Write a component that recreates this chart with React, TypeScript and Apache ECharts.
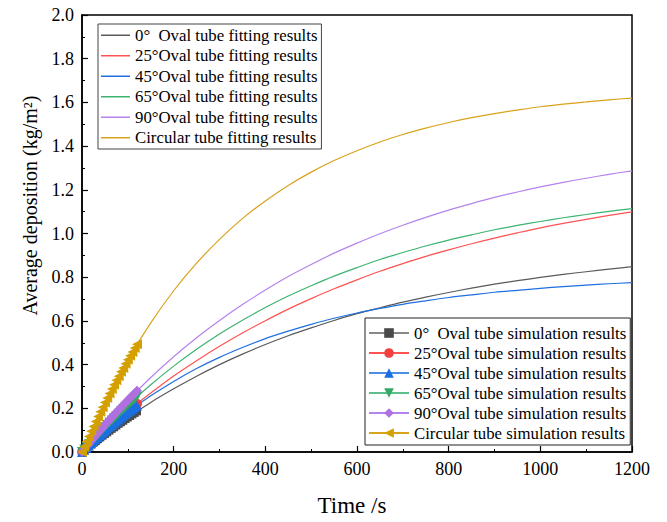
import React, { useEffect, useRef } from "react";
import * as echarts from "echarts";

const fitTime = [0, 50, 100, 150, 200, 250, 300, 350, 400, 450, 500, 550, 600, 650, 700, 750, 800, 850, 900, 950, 1000, 1050, 1100, 1150, 1200];
const fit0 = [0, 0.082, 0.158, 0.227, 0.289, 0.347, 0.4, 0.448, 0.492, 0.532, 0.568, 0.602, 0.633, 0.66, 0.686, 0.709, 0.73, 0.75, 0.768, 0.784, 0.799, 0.813, 0.825, 0.837, 0.848];
const fit25 = [0, 0.097, 0.187, 0.27, 0.348, 0.418, 0.484, 0.545, 0.601, 0.654, 0.702, 0.747, 0.788, 0.827, 0.862, 0.895, 0.925, 0.953, 0.979, 1.003, 1.026, 1.046, 1.065, 1.083, 1.099];
const fit45 = [0, 0.097, 0.182, 0.257, 0.323, 0.382, 0.433, 0.478, 0.519, 0.553, 0.584, 0.612, 0.636, 0.657, 0.676, 0.692, 0.707, 0.719, 0.731, 0.74, 0.749, 0.757, 0.764, 0.77, 0.775];
const fit65 = [0, 0.113, 0.215, 0.308, 0.393, 0.47, 0.54, 0.603, 0.661, 0.714, 0.761, 0.805, 0.844, 0.881, 0.913, 0.943, 0.97, 0.994, 1.017, 1.037, 1.055, 1.072, 1.087, 1.101, 1.114];
const fit90 = [0, 0.124, 0.237, 0.341, 0.436, 0.523, 0.602, 0.675, 0.741, 0.803, 0.858, 0.91, 0.956, 0.999, 1.038, 1.074, 1.107, 1.137, 1.165, 1.19, 1.213, 1.234, 1.253, 1.271, 1.287];
const fitCirc = [0, 0.227, 0.422, 0.591, 0.738, 0.864, 0.973, 1.068, 1.149, 1.22, 1.281, 1.334, 1.379, 1.419, 1.453, 1.482, 1.508, 1.53, 1.549, 1.565, 1.58, 1.592, 1.602, 1.612, 1.62];

const simTime = [0, 5, 10, 15, 20, 25, 30, 35, 40, 45, 50, 55, 60, 65, 70, 75, 80, 85, 90, 95, 100, 105, 110, 115, 120];
const sim0 = [0, 0.009, 0.017, 0.026, 0.034, 0.042, 0.05, 0.059, 0.067, 0.075, 0.082, 0.09, 0.098, 0.106, 0.113, 0.121, 0.129, 0.136, 0.143, 0.151, 0.158, 0.165, 0.172, 0.179, 0.186];
const sim25 = [0, 0.01, 0.02, 0.03, 0.04, 0.05, 0.059, 0.069, 0.078, 0.088, 0.097, 0.106, 0.116, 0.125, 0.134, 0.143, 0.152, 0.161, 0.17, 0.178, 0.187, 0.196, 0.204, 0.213, 0.221];
const sim45 = [0, 0.01, 0.02, 0.03, 0.04, 0.05, 0.06, 0.069, 0.078, 0.088, 0.097, 0.106, 0.115, 0.124, 0.132, 0.141, 0.149, 0.158, 0.166, 0.174, 0.182, 0.19, 0.198, 0.206, 0.213];
const sim65 = [0, 0.012, 0.023, 0.035, 0.046, 0.058, 0.069, 0.08, 0.091, 0.102, 0.113, 0.123, 0.134, 0.144, 0.155, 0.165, 0.175, 0.185, 0.195, 0.205, 0.215, 0.225, 0.234, 0.244, 0.253];
const sim90 = [0, 0.013, 0.026, 0.038, 0.051, 0.063, 0.076, 0.088, 0.1, 0.112, 0.124, 0.136, 0.147, 0.159, 0.17, 0.182, 0.193, 0.204, 0.215, 0.226, 0.237, 0.248, 0.259, 0.269, 0.28];
const simCirc = [0, 0.024, 0.048, 0.071, 0.095, 0.117, 0.14, 0.162, 0.184, 0.205, 0.227, 0.247, 0.268, 0.288, 0.308, 0.328, 0.347, 0.367, 0.385, 0.404, 0.422, 0.44, 0.458, 0.476, 0.493];

const fitNames = [
  "0°  Oval tube fitting results",
  "25°Oval tube fitting results",
  "45°Oval tube fitting results",
  "65°Oval tube fitting results",
  "90°Oval tube fitting results",
  "Circular tube fitting results",
];
const simNames = [
  "0°  Oval tube simulation results",
  "25°Oval tube simulation results",
  "45°Oval tube simulation results",
  "65°Oval tube simulation results",
  "90°Oval tube simulation results",
  "Circular tube simulation results",
];
const fitColors = ["#5a5a5a", "#ff5252", "#1f6fe0", "#3cb371", "#b484ec", "#d9a21b"];
const markColors = ["#4a4a4a", "#f04040", "#1a6fe0", "#35a865", "#b070e0", "#d4a000"];
const simLineColors = ["#888888", "#ff5252", "#4a8ee8", "#5cc08a", "#b484ec", "#d9a21b"];
const symbols = ["rect", "circle", "triangle", "triangle", "diamond", "triangle"];
const rotations = [0, 0, 0, 180, 0, 90];

const FONT = "Liberation Serif";

export default function App() {
  const ref = useRef<HTMLDivElement>(null);
  useEffect(() => {
    if (!ref.current) return;
    const chart = echarts.init(ref.current, null, { renderer: "svg" });
    const fits = [fit0, fit25, fit45, fit65, fit90, fitCirc];
    const sims = [sim0, sim25, sim45, sim65, sim90, simCirc];
    const series: any[] = [];
    fits.forEach((arr, i) => {
      series.push({
        name: fitNames[i],
        type: "line",
        data: fitTime.map((t, j) => [t, arr[j]]),
        symbol: "none",
        smooth: 0.3,
        lineStyle: { color: fitColors[i], width: 1.2 },
        itemStyle: { color: fitColors[i] },
        z: 2,
      });
    });
    sims.forEach((arr, i) => {
      series.push({
        name: simNames[i],
        type: "line",
        data: simTime.map((t, j) => [t, arr[j]]),
        symbol: symbols[i],
        symbolSize: symbols[i] === "rect" ? 8 : 10,
        symbolRotate: rotations[i],
        showSymbol: true,
        lineStyle: { color: simLineColors[i], width: 1 },
        itemStyle: { color: markColors[i] },
        z: 3,
      });
    });
    chart.setOption({
      animation: false,
      textStyle: { fontFamily: FONT },
      grid: {
        left: 82,
        right: 35,
        top: 15,
        bottom: 66,
        show: true,
        borderColor: "#000",
        borderWidth: 1.5,
        backgroundColor: "transparent",
      },
      legend: [
        {
          data: fitNames.map((n, i) => ({
            name: n,
            icon: "rect",
            itemStyle: { color: fitColors[i] },
          })),
          orient: "vertical",
          left: 98,
          top: 24,
          itemWidth: 29,
          itemHeight: 1.5,
          itemGap: 0,
          padding: [1, 4, 1, 3],
          backgroundColor: "#fff",
          borderColor: "#444",
          borderWidth: 1,
          textStyle: { fontFamily: FONT, fontSize: 16.8, color: "#000", lineHeight: 20.5 },
        },
        {
          data: simNames,
          orient: "vertical",
          left: 365,
          top: 318,
          itemWidth: 40,
          itemHeight: 12,
          itemGap: 0,
          padding: [5, 4, 2, 3],
          backgroundColor: "#fff",
          borderColor: "#222",
          borderWidth: 1,
          textStyle: { fontFamily: FONT, fontSize: 16.8, color: "#000", lineHeight: 20 },
        },
      ],
      xAxis: {
        type: "value",
        min: 0,
        max: 1200,
        interval: 200,
        name: "Time /s",
        nameLocation: "middle",
        nameGap: 42,
        nameTextStyle: { fontFamily: FONT, fontSize: 23, color: "#000", padding: [0, 10, 0, 0] },
        axisLine: { show: true, lineStyle: { color: "#000", width: 1.5 } },
        axisTick: { show: true, inside: true, length: 6, lineStyle: { color: "#000", width: 1.2 } },
        minorTick: { show: true, splitNumber: 2, length: 3, lineStyle: { color: "#000", width: 1 } },
        axisLabel: {
          fontFamily: FONT,
          fontSize: 18,
          color: "#000",
          margin: 8,
          formatter: (v: number) => String(v),
        },
        splitLine: { show: false },
      },
      yAxis: {
        type: "value",
        min: 0,
        max: 2,
        interval: 0.2,
        name: "Average deposition (kg/m²)",
        nameLocation: "middle",
        nameGap: 42,
        nameTextStyle: { fontFamily: FONT, fontSize: 20, color: "#000", padding: [0, 0, 0, 56] },
        axisLine: { show: true, lineStyle: { color: "#000", width: 1.5 } },
        axisTick: { show: true, inside: true, length: 6, lineStyle: { color: "#000", width: 1.2 } },
        minorTick: { show: true, splitNumber: 2, length: 3, lineStyle: { color: "#000", width: 1 } },
        axisLabel: {
          fontFamily: FONT,
          fontSize: 18,
          color: "#000",
          margin: 8,
          formatter: (v: number) => v.toFixed(1),
        },
        splitLine: { show: false },
      },
      series,
    });
    return () => chart.dispose();
  }, []);
  return (
    <div
      ref={ref}
      style={{ position: "fixed", left: 0, top: 0, width: 667, height: 522, background: "#fff" }}
    />
  );
}
